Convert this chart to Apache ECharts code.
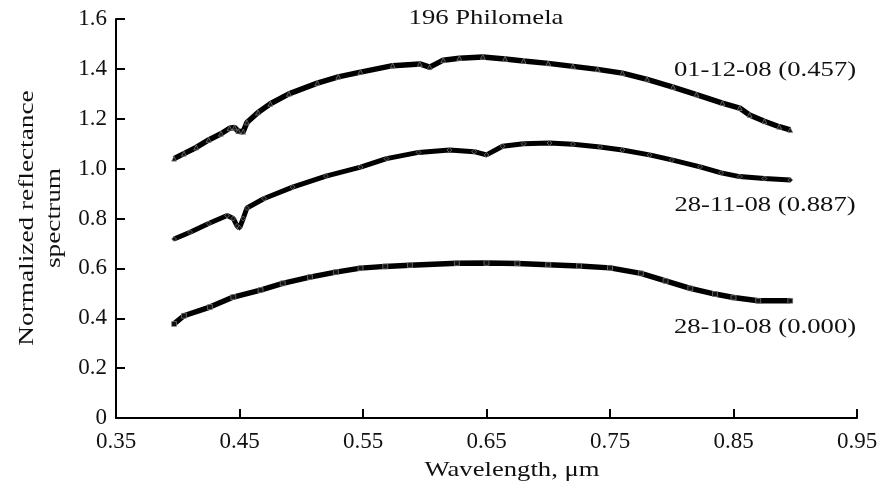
<!DOCTYPE html>
<html><head><meta charset="utf-8">
<script src="https://cdn.jsdelivr.net/npm/echarts@6/dist/echarts.min.js"></script>
<style>html,body{margin:0;padding:0;background:#fff}#c{width:884px;height:489px}</style>
</head><body><div id="c"></div>
<script>
const xTicks = [0.35, 0.45, 0.55, 0.65, 0.75, 0.85, 0.95];
const yTicks = [0, 0.2, 0.4, 0.6, 0.8, 1.0, 1.2, 1.4, 1.6];
const title = '196 Philomela';
const seriesNames = ['01-12-08 (0.457)', '28-11-08 (0.887)', '28-10-08 (0.000)'];

const wlA = [0.397,0.405,0.415,0.425,0.435,0.442,0.446,0.449,0.453,0.456,0.465,0.475,0.49,0.513,0.53,0.548,0.574,0.596,0.604,0.615,0.628,0.647,0.665,0.68,0.70,0.72,0.74,0.76,0.78,0.801,0.82,0.841,0.855,0.863,0.875,0.887,0.896];
const refA = [1.04,1.06,1.085,1.115,1.14,1.162,1.165,1.15,1.148,1.185,1.225,1.26,1.30,1.343,1.368,1.387,1.413,1.42,1.407,1.435,1.443,1.448,1.44,1.432,1.422,1.41,1.398,1.383,1.358,1.327,1.297,1.263,1.243,1.215,1.19,1.168,1.155];

const wlB = [0.397,0.41,0.425,0.44,0.445,0.448,0.45,0.453,0.456,0.47,0.493,0.52,0.548,0.569,0.595,0.62,0.64,0.65,0.663,0.68,0.701,0.72,0.742,0.76,0.782,0.80,0.823,0.84,0.855,0.875,0.896];
const refB = [0.718,0.745,0.78,0.812,0.80,0.77,0.762,0.80,0.842,0.88,0.926,0.97,1.006,1.04,1.065,1.075,1.068,1.055,1.09,1.10,1.103,1.098,1.087,1.075,1.055,1.035,1.007,0.983,0.968,0.96,0.954];

const wlC = [0.397,0.405,0.426,0.445,0.467,0.485,0.507,0.528,0.548,0.568,0.588,0.626,0.65,0.675,0.70,0.725,0.75,0.775,0.795,0.815,0.835,0.85,0.87,0.896];
const refC = [0.377,0.41,0.445,0.485,0.513,0.54,0.565,0.585,0.601,0.608,0.613,0.621,0.622,0.62,0.615,0.61,0.602,0.58,0.55,0.52,0.497,0.483,0.47,0.47];

const pair = (xs, ys) => xs.map((x, i) => [x, ys[i]]);
const FONT = '"Liberation Serif", "DejaVu Serif", serif';
const SX = 1.27;

const chart = echarts.init(document.getElementById('c'), null, {renderer: 'canvas'});
const mk = (name, xs, ys, sym, w) => ({
  name, type: 'line', data: pair(xs, ys), smooth: false,
  lineStyle: {color: '#000', width: w},
  symbol: sym, symbolSize: 5, showSymbol: true,
  itemStyle: {color: '#111', borderColor: '#999', borderWidth: 0.6},
  animation: false, z: 3
});
const txt = (s, x, y, extra) => Object.assign({
  type: 'text', x, y, scaleX: SX,
  style: {text: s, font: '21px ' + FONT, fill: '#111', align: 'center', verticalAlign: 'middle'}
}, extra || {});
chart.setOption({
  animation: false,
  grid: {left: 116, right: 27, top: 19, bottom: 71},
  xAxis: {
    type: 'value', min: 0.35, max: 0.95,
    axisLine: {lineStyle: {color: '#000', width: 2}},
    axisTick: {inside: true, length: 9, lineStyle: {color: '#000', width: 2}, customValues: xTicks},
    axisLabel: {customValues: xTicks, formatter: v => v.toFixed(2), color: '#111', fontFamily: FONT, fontSize: 23, margin: 12},
    splitLine: {show: false}
  },
  yAxis: {
    type: 'value', min: 0, max: 1.6, interval: 0.2,
    axisLine: {show: true, lineStyle: {color: '#000', width: 2}},
    axisTick: {show: true, inside: true, length: 9, lineStyle: {color: '#000', width: 2}},
    axisLabel: {formatter: v => v === 0 ? '0' : v.toFixed(1), color: '#111', fontFamily: FONT, fontSize: 23, margin: 9},
    splitLine: {show: false}
  },
  series: [
    mk(seriesNames[0], wlA, refA, 'triangle', 5.5),
    mk(seriesNames[1], wlB, refB, 'diamond', 5),
    mk(seriesNames[2], wlC, refC, 'rect', 5.5)
  ],
  graphic: [
    txt(title, 486, 18),
    txt(seriesNames[0], 765, 70),
    txt(seriesNames[1], 765, 205),
    txt(seriesNames[2], 765, 327),
    txt('Wavelength, μm', 512, 470),
    {type: 'text', x: 41, y: 218, rotation: Math.PI / 2, scaleX: 1.3,
     style: {text: 'Normalized reflectance\nspectrum', font: '21px ' + FONT, fill: '#111', align: 'center', verticalAlign: 'middle', lineHeight: 27}}
  ]
});
</script></body></html>
